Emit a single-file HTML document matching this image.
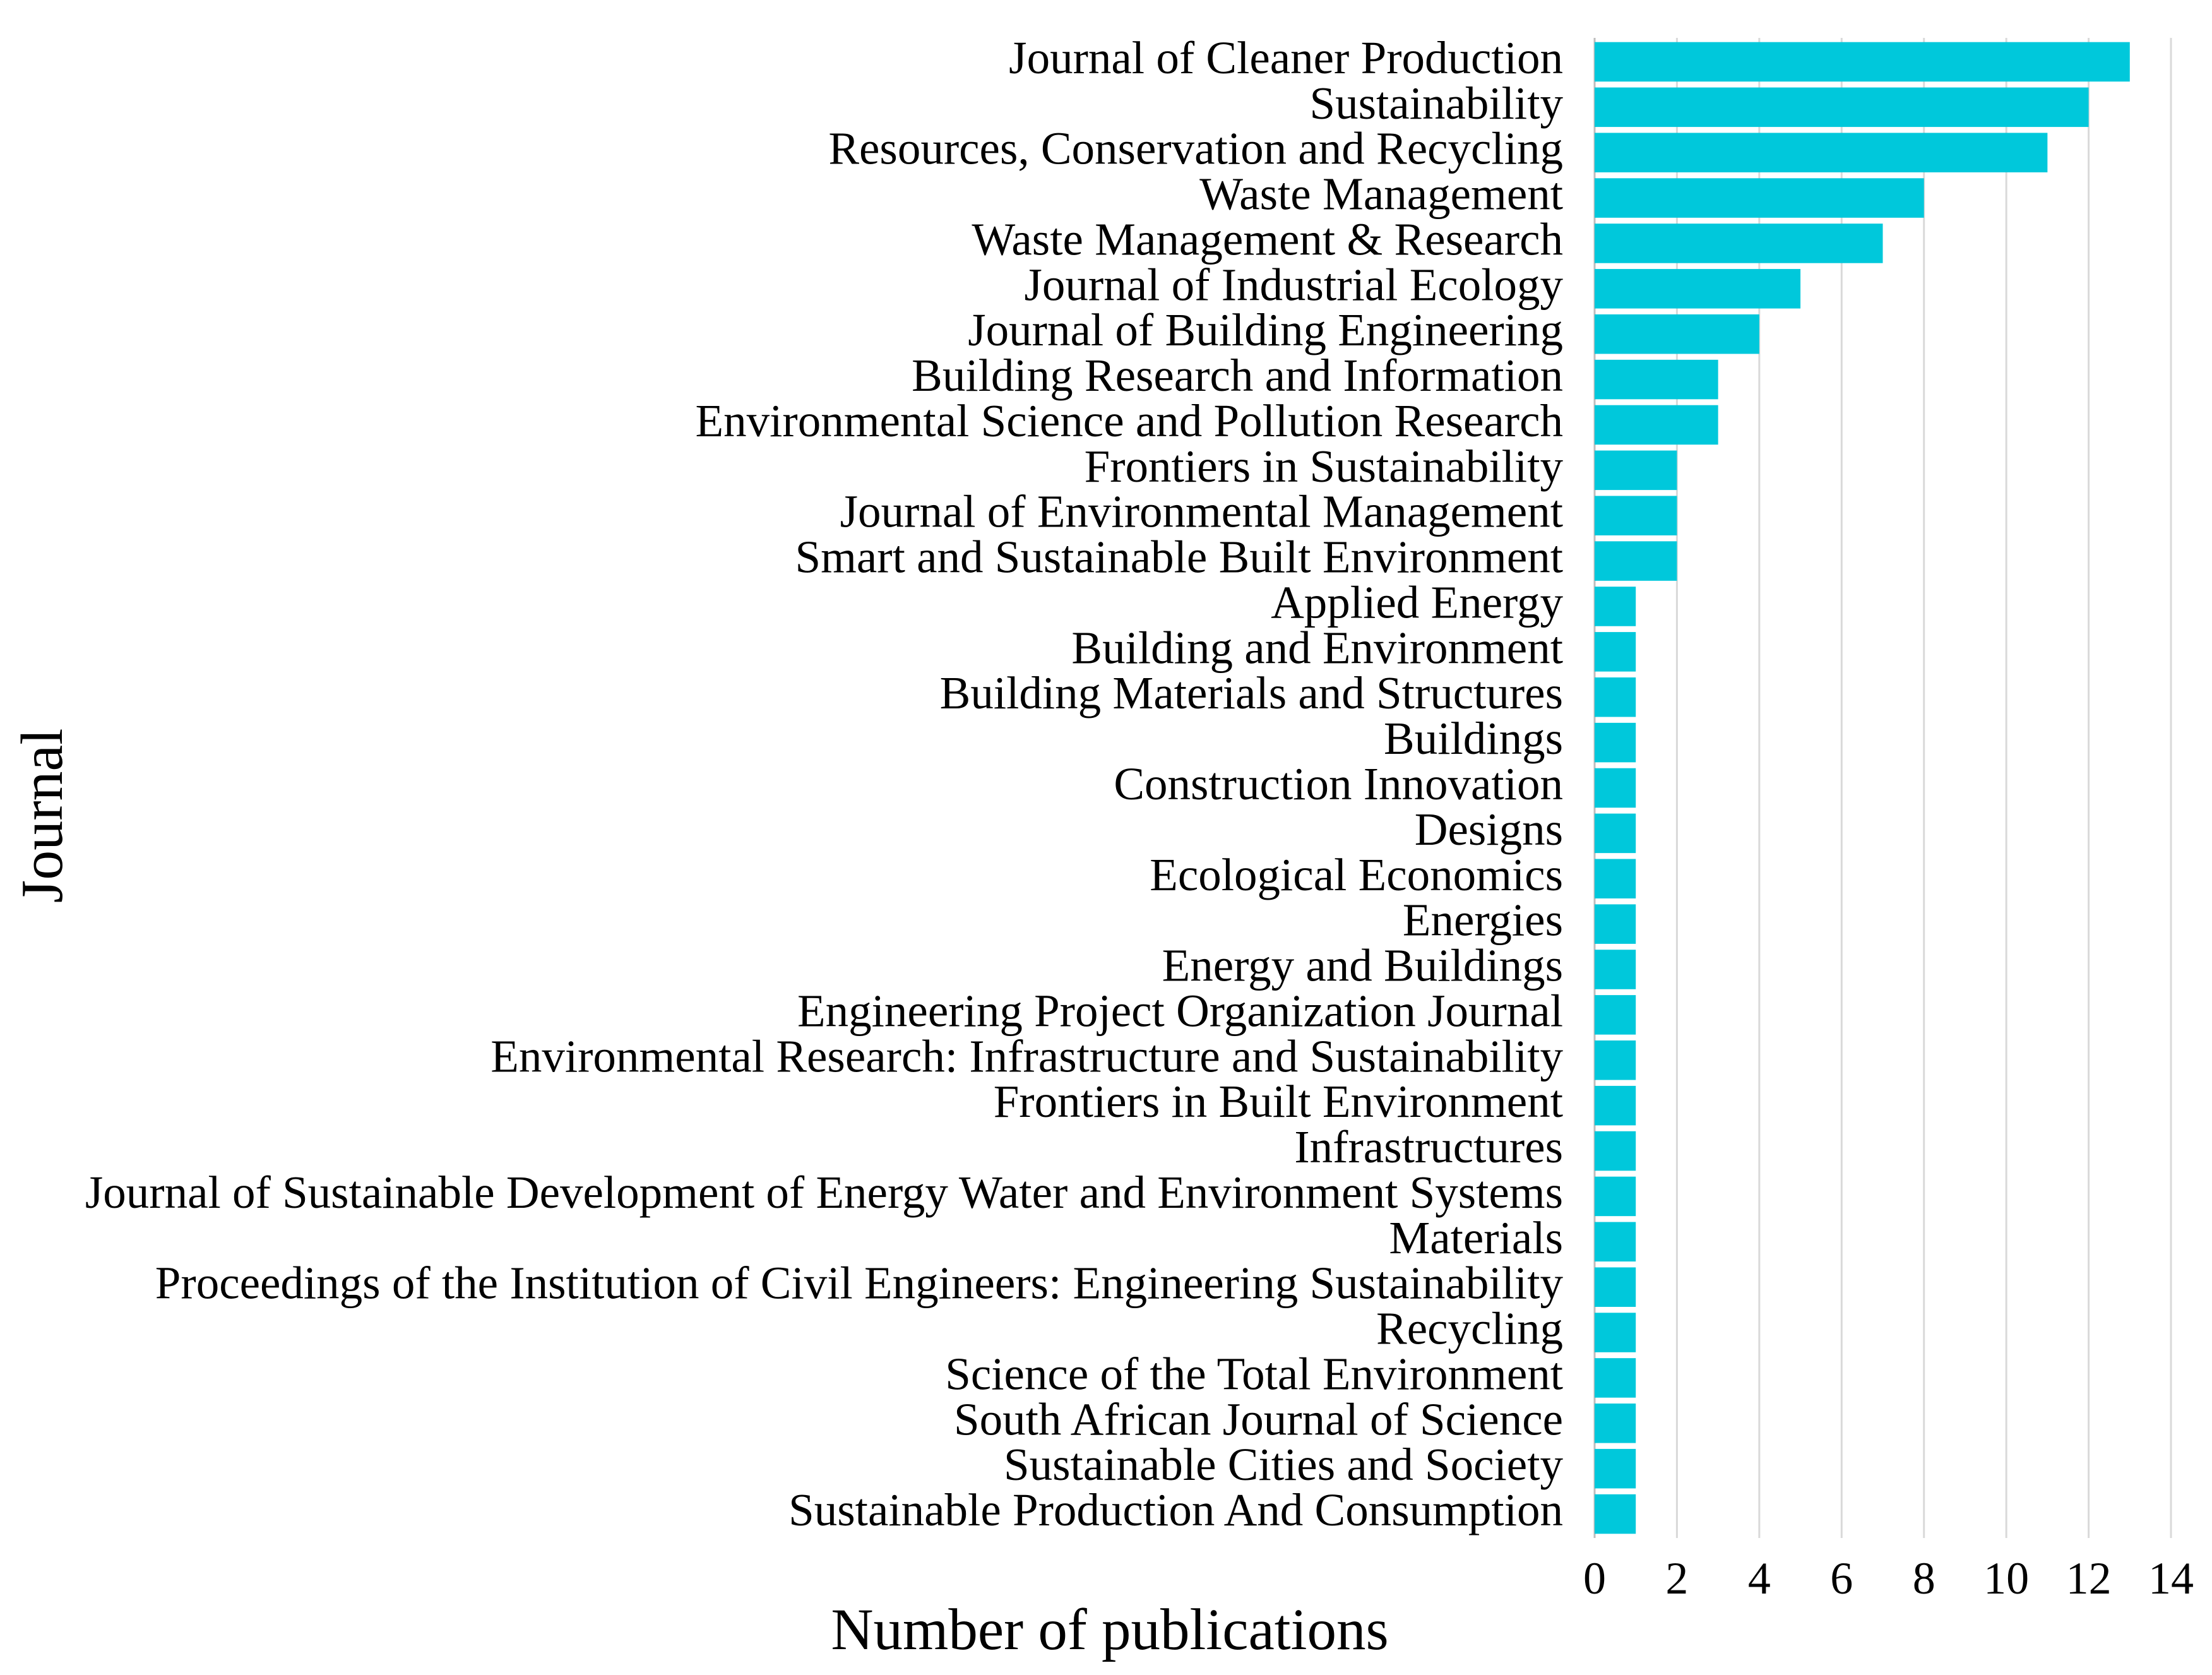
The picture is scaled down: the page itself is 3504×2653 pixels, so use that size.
<!DOCTYPE html>
<html><head><meta charset="utf-8"><style>
html,body{margin:0;padding:0;background:#fff;}
svg{display:block;font-family:"Liberation Serif","Times New Roman",serif;}
</style></head><body>
<svg id="chart" width="3504" height="2653" viewBox="0 0 3504 2653">
<g id="grid"></g>
<g id="bars"></g>
<g id="ylabels"></g>
<g id="xlabels"></g>
<text x="1758" y="2612" font-size="93" text-anchor="middle" fill="#000">Number of publications</text>
<text transform="translate(98,1292) rotate(-90)" font-size="94" text-anchor="middle" fill="#000">Journal</text>
</svg>
<script>
const categories = ["Journal of Cleaner Production","Sustainability","Resources, Conservation and Recycling","Waste Management","Waste Management & Research","Journal of Industrial Ecology","Journal of Building Engineering","Building Research and Information","Environmental Science and Pollution Research","Frontiers in Sustainability","Journal of Environmental Management","Smart and Sustainable Built Environment","Applied Energy","Building and Environment","Building Materials and Structures","Buildings","Construction Innovation","Designs","Ecological Economics","Energies","Energy and Buildings","Engineering Project Organization Journal","Environmental Research: Infrastructure and Sustainability","Frontiers in Built Environment","Infrastructures","Journal of Sustainable Development of Energy Water and Environment Systems","Materials","Proceedings of the Institution of Civil Engineers: Engineering Sustainability","Recycling","Science of the Total Environment","South African Journal of Science","Sustainable Cities and Society","Sustainable Production And Consumption"];
const values = [13,12,11,8,7,5,4,3,3,2,2,2,1,1,1,1,1,1,1,1,1,1,1,1,1,1,1,1,1,1,1,1,1];
const xTicks = [0,2,4,6,8,10,12,14];
</script>
<script>
const NS="http://www.w3.org/2000/svg";
const x0=2526, x1=3439, xMax=14, yTop=62, yBot=2434;
const xs=v=>x0+(v/xMax)*(x1-x0);
const band=(yBot-yTop)/categories.length;
const ys=i=>yTop+i*band;
const grid=document.getElementById('grid'), bars=document.getElementById('bars'),
 yl=document.getElementById('ylabels'), xl=document.getElementById('xlabels');
xTicks.forEach(t=>{
 const l=document.createElementNS(NS,'line');
 l.setAttribute('x1',xs(t));l.setAttribute('x2',xs(t));
 l.setAttribute('y1',yTop-2);l.setAttribute('y2',yBot+2);
 l.setAttribute('stroke',t===0?'#bdbdbd':'#d9d9d9');l.setAttribute('stroke-width','3');
 
 
 grid.appendChild(l);
 const tx=document.createElementNS(NS,'text');
 tx.setAttribute('x',xs(t));tx.setAttribute('y',2524);
 tx.setAttribute('font-size','72');tx.setAttribute('text-anchor','middle');
 tx.textContent=t;
 
 
 xl.appendChild(tx);
});
const pad=band*0.065;
categories.forEach((c,i)=>{
 const r=document.createElementNS(NS,'rect');
 r.setAttribute('x',xs(0));r.setAttribute('y',ys(i)+pad);
 r.setAttribute('width',xs(values[i])-xs(0));r.setAttribute('height',band-2*pad);
 r.setAttribute('fill','#00c8db');
 
 
 bars.appendChild(r);
 const t=document.createElementNS(NS,'text');
 t.setAttribute('x',2476);t.setAttribute('y',ys(i)+band/2+18);
 t.setAttribute('font-size','73');t.setAttribute('text-anchor','end');
 t.textContent=c;
 
 
 yl.appendChild(t);
});
</script>
</body></html>
